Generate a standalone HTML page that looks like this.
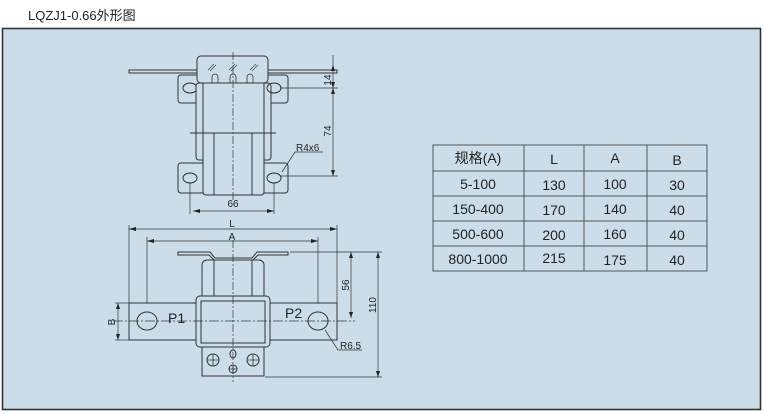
<!DOCTYPE html>
<html><head><meta charset="utf-8"><style>
html,body{margin:0;padding:0;background:#fff;width:764px;height:414px;overflow:hidden}
svg{display:block}
text{font-family:"Liberation Sans","Noto Sans CJK SC",sans-serif;fill:#222}
</style></head><body>
<svg width="764" height="414" viewBox="0 0 764 414" xmlns="http://www.w3.org/2000/svg">
<text x="28" y="20" font-size="13">LQZJ1-0.66外形图</text>
<rect x="2.5" y="28.5" width="758" height="381" fill="#cbdde8" stroke="#333" stroke-width="1.6"/>
<g fill="none" stroke="#333" stroke-width="1">
<rect x="129" y="70" width="208" height="3" fill="#cbdde8"/>
<rect x="178" y="75" width="110" height="28" rx="3" fill="#cbdde8"/>
<rect x="178" y="163" width="110" height="30" rx="3" fill="#cbdde8"/>
<ellipse cx="190" cy="88" rx="7" ry="5"/>
<rect x="196" y="83" width="75" height="77" rx="3" fill="#cbdde8"/>
<rect x="203" y="80" width="61" height="115" rx="3" fill="#cbdde8"/>
<rect x="197" y="56" width="71" height="27" rx="4" fill="#cbdde8"/>
<path d="M212 83v-6a3 3 0 0 1 6 0v6M230 83v-6a3 3 0 0 1 6 0v6M247 83v-6a3 3 0 0 1 6 0v6" stroke-width="0.8"/>
<path d="M208 70l6-6M210 71l6-6M229 70l6-6M231 71l6-6M250 70l6-6M252 71l6-6" stroke-width="0.6"/>
<line x1="190" y1="133" x2="276" y2="133"/>
<line x1="214" y1="133" x2="214" y2="195"/>
<line x1="252" y1="133" x2="252" y2="195"/>
<ellipse cx="274" cy="88" rx="7" ry="5"/>
<ellipse cx="190" cy="178" rx="7" ry="5"/>
<ellipse cx="274" cy="178" rx="7" ry="5"/>
<line x1="233" y1="52" x2="233" y2="200" stroke-dasharray="8 2 2 2" stroke-width="0.7"/>
<line x1="333" y1="55" x2="333" y2="176" stroke-width="0.7"/>
<line x1="280" y1="88" x2="338" y2="88" stroke-width="0.7"/>
<line x1="280" y1="176" x2="338" y2="176" stroke-width="0.7"/>
<line x1="190" y1="183" x2="190" y2="214" stroke-width="0.7"/>
<line x1="274" y1="183" x2="274" y2="214" stroke-width="0.7"/>
<line x1="193" y1="211" x2="274" y2="211" stroke-width="0.7"/>
<path d="M282 172L295 152H323" stroke-width="0.7"/>
<line x1="129" y1="229" x2="337" y2="229" stroke-width="0.7"/>
<line x1="147" y1="241" x2="318" y2="241" stroke-width="0.7"/>
<line x1="129" y1="225" x2="129" y2="303" stroke-width="0.7"/>
<line x1="337" y1="225" x2="337" y2="303" stroke-width="0.7"/>
<line x1="147" y1="237" x2="147" y2="333" stroke-width="0.7"/>
<line x1="318" y1="237" x2="318" y2="333" stroke-width="0.7"/>
<path d="M178 252H210L215 258H252L257 252H288V255H258L253 260H214L209 255H178Z" fill="#cbdde8"/>
<rect x="202" y="260" width="62" height="40" rx="5" fill="#cbdde8"/>
<line x1="214" y1="260" x2="214" y2="296"/>
<line x1="252" y1="260" x2="252" y2="296"/>
<rect x="129" y="303" width="208" height="37" fill="#cbdde8"/>
<rect x="202" y="347" width="62" height="29" fill="#cbdde8"/>
<rect x="196" y="296" width="74" height="51" rx="4" fill="#cbdde8"/>
<rect x="201" y="301" width="64" height="42"/>
<ellipse cx="147" cy="321" rx="10" ry="9"/>
<ellipse cx="318" cy="321" rx="10" ry="9"/>
<line x1="113" y1="321" x2="355" y2="321" stroke-dasharray="10 2 2 2" stroke-width="0.7"/>
<line x1="233" y1="240" x2="233" y2="382" stroke-dasharray="8 2 2 2" stroke-width="0.7"/>
<circle cx="213" cy="360" r="6"/><path d="M207 360h12M213 354v12" stroke-width="0.8"/>
<circle cx="253" cy="360" r="6"/><path d="M247 360h12M253 354v12" stroke-width="0.8"/>
<ellipse cx="233" cy="354" rx="3" ry="4"/>
<circle cx="233" cy="369" r="4"/><path d="M229 369h8M233 365v8" stroke-width="0.8"/>
<line x1="115" y1="303" x2="129" y2="303" stroke-width="0.7"/>
<line x1="115" y1="340" x2="129" y2="340" stroke-width="0.7"/>
<line x1="118" y1="303" x2="118" y2="340" stroke-width="0.7"/>
<line x1="290" y1="252" x2="382" y2="252" stroke-width="0.7"/>
<line x1="265" y1="377" x2="382" y2="377" stroke-width="0.7"/>
<line x1="351" y1="252" x2="351" y2="318" stroke-width="0.7"/>
<line x1="378" y1="252" x2="378" y2="377" stroke-width="0.7"/>
<path d="M325 330L338 350H362" stroke-width="0.7"/>
</g>
<g fill="#222">
<path d="M193 211l7-2v4zM274 211l-7-2v4z"/>
<path d="M333 88l-2-6h4zM333 88l-2 6h4zM333 176l-2-6h4zM333 65l-2 6h4z"/>
<path d="M129 229l7-2v4zM337 229l-7-2v4zM147 241l7-2v4zM318 241l-7-2v4z"/>
<path d="M118 303l-2 6h4zM118 340l-2-6h4z"/>
<path d="M351 252l-2 6h4zM351 318l-2-6h4zM378 252l-2 6h4zM378 377l-2-6h4z"/>
</g>
<g font-size="10">
<text x="233" y="207" text-anchor="middle">66</text>
<text x="296" y="151">R4x6</text>
<text transform="translate(331,80) rotate(-90)" text-anchor="middle">14</text>
<text transform="translate(331,131) rotate(-90)" text-anchor="middle">74</text>
<text x="232" y="227" text-anchor="middle">L</text>
<text x="232" y="240" text-anchor="middle">A</text>
<text transform="translate(115,322) rotate(-90)" text-anchor="middle">B</text>
<text transform="translate(349,285) rotate(-90)" text-anchor="middle">56</text>
<text transform="translate(376,305) rotate(-90)" text-anchor="middle">110</text>
<text x="340" y="349">R6.5</text>
</g>
<text x="168" y="323" font-size="14">P1</text>
<text x="285" y="318" font-size="14">P2</text>
<g fill="none" stroke="#555" stroke-width="1">
<rect x="433" y="145" width="274" height="126"/>
<line x1="524" y1="145" x2="524" y2="271"/><line x1="584" y1="145" x2="584" y2="271"/><line x1="647" y1="145" x2="647" y2="271"/>
<line x1="433" y1="171" x2="707" y2="171"/><line x1="433" y1="196" x2="707" y2="196"/><line x1="433" y1="221" x2="707" y2="221"/><line x1="433" y1="246" x2="707" y2="246"/>
</g>
<g font-size="14" text-anchor="middle">
<text x="478" y="163">规格(A)</text><text x="554" y="164">L</text><text x="615" y="163">A</text><text x="677" y="165">B</text>
<text x="478" y="189">5-100</text><text x="554" y="190">130</text><text x="615" y="189">100</text><text x="677" y="190">30</text>
<text x="478" y="214">150-400</text><text x="554" y="215">170</text><text x="615" y="214">140</text><text x="677" y="215">40</text>
<text x="478" y="239">500-600</text><text x="554" y="240">200</text><text x="615" y="239">160</text><text x="677" y="240">40</text>
<text x="478" y="264">800-1000</text><text x="554" y="263">215</text><text x="615" y="265">175</text><text x="677" y="265">40</text>
</g>
</svg>
</body></html>
